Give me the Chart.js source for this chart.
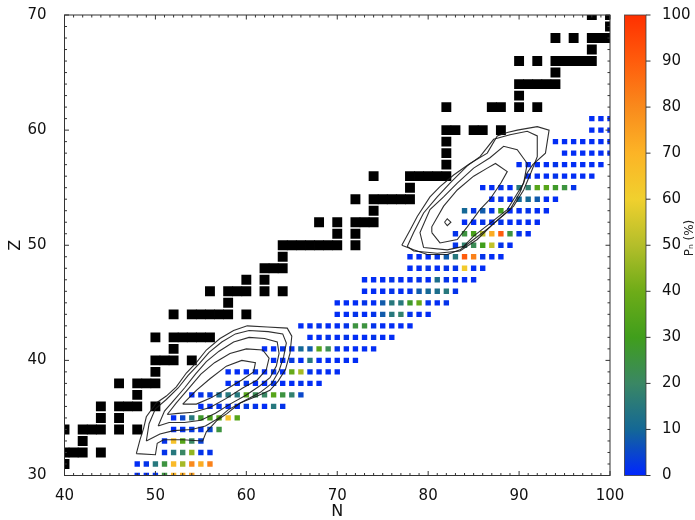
<!DOCTYPE html>
<html>
<head>
<meta charset="utf-8">
<script src="https://cdn.jsdelivr.net/npm/chart.js@4.4.0/dist/chart.umd.min.js"></script>
<style>
html, body { margin: 0; padding: 0; background: #fff; }
#wrap { width: 695px; height: 520px; }
</style>
</head>
<body>
<div id="wrap"><canvas id="myChart" width="695" height="520"></canvas></div>
<script>
// stable nuclei, one row per Z
var stableZ = [31, 32, 33, 34, 35, 36, 37, 38, 39, 40, 41, 42, 44, 45, 46, 47, 48, 49, 50, 51, 52, 53, 54, 55, 56, 57, 58, 59, 60, 62, 63, 64, 65, 66, 67, 68, 69, 70];
var stableN = [
    [40], [40, 41, 42, 44], [42], [40, 42, 43, 44, 46, 48], [44, 46],
    [44, 46, 47, 48, 50], [48], [46, 48, 49, 50], [50], [50, 51, 52, 54],
    [52], [50, 52, 53, 54, 55, 56], [52, 54, 55, 56, 57, 58, 60], [58],
    [56, 58, 59, 60, 62, 64], [60, 62], [62, 63, 64], [64],
    [64, 65, 66, 67, 68, 69, 70, 72], [70, 72], [68, 70, 72, 73, 74], [74],
    [72, 74, 75, 76, 77, 78], [78], [74, 78, 79, 80, 81, 82], [82], [82], [82],
    [82, 83, 85, 86, 88], [82, 87, 88, 90, 92], [90], [90, 91, 92, 93, 94], [94],
    [90, 92, 94, 95, 96, 97, 98], [98], [94, 96, 98, 99, 100], [100], [98, 100]
];

// Pn (%) for each Z row, starting at pnStartN
var pnZ = [30, 31, 32, 33, 34, 35, 36, 37, 38, 39, 40, 41, 42, 43, 44, 45, 46, 47, 48, 49, 50, 51, 52, 53, 54, 55, 56, 57, 58, 59, 60, 61];
var pnStartN = [48, 48, 51, 51, 52, 52, 55, 54, 58, 58, 63, 62, 67, 66, 70, 70, 73, 73, 78, 78, 83, 83, 84, 84, 87, 86, 91, 90, 95, 94, 98, 98];
var pnValues = [
    [1, 1, 2, 25, 70, 72, 75],
    [1, 2, 15, 25, 68, 48, 80, 72, 82],
    [2, 15, 20, 45, 2, 2],
    [2, 65, 35, 20, 4],
    [1, 2, 3, 2, 5, 25],
    [1, 5, 15, 28, 32, 35, 65, 35],
    [1, 1, 2, 1, 1, 3, 2, 1, 15, 2],
    [1, 2, 3, 12, 15, 15, 35, 22, 20, 35, 25, 18, 5],
    [1, 1, 2, 1, 1, 2, 1, 1, 2, 1, 1],
    [1, 1, 1, 2, 1, 2, 1, 38, 48, 2, 1, 1, 1],
    [1, 1, 3, 1, 15, 1, 1, 1, 1, 1],
    [1, 1, 2, 2, 10, 8, 35, 22, 2, 1, 1, 1, 1],
    [1, 1, 2, 1, 2, 1, 1, 2, 1, 1],
    [1, 1, 2, 1, 1, 2, 25, 25, 2, 1, 1, 1, 1],
    [1, 1, 2, 1, 2, 8, 15, 18, 2, 1, 1],
    [1, 1, 1, 2, 1, 8, 15, 15, 28, 38, 2, 1, 2],
    [1, 1, 1, 2, 1, 2, 8, 10, 12, 15, 2],
    [1, 1, 1, 2, 1, 1, 2, 1, 12, 2, 1, 1, 1],
    [1, 1, 2, 1, 2, 2, 62, 1, 1],
    [1, 1, 1, 2, 8, 15, 90, 82, 2, 1, 1],
    [2, 18, 22, 30, 52, 2, 1],
    [2, 25, 32, 52, 72, 90, 25, 2, 1],
    [1, 1, 2, 1, 2, 1, 1, 1, 1],
    [10, 2, 8, 2, 30, 1, 1, 2, 1, 1],
    [1, 2, 1, 10, 10, 8, 1, 1],
    [1, 1, 2, 1, 15, 18, 35, 35, 28, 25, 2],
    [1, 1, 1, 2, 1, 1, 1, 1],
    [1, 1, 1, 1, 2, 1, 1, 1, 1, 1],
    [1, 1, 1, 1, 1, 1],
    [1, 1, 1, 1, 1, 1, 1],
    [1, 1, 1],
    [1, 1, 1]
];

// contour rings [N, Z], lower-left group
var contourL1 = [[47.9, 31.9], [48.3, 33.1], [48.7, 34.1], [49.0, 35.1], [50.1, 36.3], [51.2, 36.9], [52.3, 37.7], [53.4, 38.9], [54.5, 39.8], [55.6, 40.9], [57.1, 41.9], [58.6, 42.6], [60.1, 43.0], [62.3, 42.9], [64.5, 42.8], [65.0, 42.1], [64.8, 40.6], [64.3, 39.2], [63.5, 38.2], [62.6, 37.4], [61.2, 36.9], [59.3, 36.3], [57.9, 35.4], [56.8, 34.8], [55.6, 33.8], [55.2, 33.0], [53.0, 33.1], [50.9, 33.1], [50.2, 32.8], [50.0, 31.8], [47.9, 31.9]];
var contourL2 = [[49.0, 33.0], [49.3, 34.5], [50.0, 35.8], [51.2, 36.6], [52.5, 37.6], [53.6, 38.7], [54.8, 39.7], [55.9, 40.7], [57.3, 41.6], [58.8, 42.3], [60.3, 42.6], [62.4, 42.5], [64.0, 42.3], [64.4, 41.5], [64.1, 40.3], [63.6, 39.1], [62.8, 38.0], [61.5, 37.2], [59.8, 36.5], [58.0, 35.7], [56.8, 34.9], [55.5, 34.3], [54.0, 34.0], [52.0, 33.9], [50.5, 33.6], [49.0, 33.0]];
var contourL3 = [[50.3, 34.3], [51.0, 35.6], [52.0, 36.5], [53.2, 37.6], [54.4, 38.8], [55.6, 39.9], [57.0, 40.8], [58.6, 41.6], [60.3, 42.0], [62.0, 41.9], [63.4, 41.6], [63.6, 40.6], [63.3, 39.5], [62.6, 38.5], [61.5, 37.8], [60.0, 37.0], [58.2, 36.2], [56.6, 35.4], [55.0, 34.8], [53.2, 34.6], [51.5, 34.6], [50.3, 34.3]];
var contourL4 = [[51.3, 35.3], [52.3, 36.3], [53.6, 37.5], [55.0, 38.8], [56.5, 39.8], [58.2, 40.6], [60.0, 41.0], [61.8, 40.9], [62.5, 40.2], [62.2, 39.2], [61.2, 38.3], [59.6, 37.6], [57.8, 36.7], [56.0, 35.9], [54.2, 35.5], [52.5, 35.4], [51.3, 35.3]];
var contourL5 = [[53.0, 36.2], [54.5, 37.4], [56.0, 38.4], [57.8, 39.5], [59.5, 40.0], [61.0, 39.8], [60.8, 39.0], [59.5, 38.3], [57.8, 37.5], [56.0, 36.7], [54.5, 36.2], [53.0, 36.2]];

// contour rings [N, Z], upper-right group
var contourR1 = [[77.1, 50.0], [78.0, 51.3], [78.8, 52.5], [80.2, 54.2], [81.3, 55.1], [82.8, 56.1], [84.6, 57.1], [86.5, 58.0], [87.6, 59.5], [88.7, 59.8], [89.8, 60.0], [92.0, 60.3], [93.3, 60.0], [92.9, 58.0], [91.5, 57.0], [90.9, 56.3], [90.1, 54.6], [89.0, 53.1], [86.8, 51.6], [85.0, 50.5], [83.5, 49.6], [82.1, 49.2], [79.9, 49.2], [78.4, 49.6], [77.1, 50.0]];
var contourR2 = [[77.7, 49.9], [78.4, 51.1], [79.5, 52.8], [81.0, 54.2], [82.4, 55.4], [84.3, 56.9], [85.7, 57.7], [87.2, 59.2], [89.0, 59.6], [90.9, 59.9], [92.0, 59.5], [92.0, 57.7], [91.3, 56.3], [90.5, 54.8], [89.4, 53.4], [87.2, 51.9], [85.4, 50.5], [83.5, 49.5], [81.0, 49.3], [78.4, 49.5], [77.7, 49.9]];
var contourR3 = [[79.5, 49.8], [79.1, 51.1], [80.2, 53.1], [81.7, 54.2], [83.2, 55.4], [85.0, 56.7], [86.8, 57.6], [88.3, 58.6], [89.8, 58.3], [90.9, 57.1], [90.5, 55.4], [89.8, 54.5], [88.7, 53.1], [86.8, 51.9], [85.0, 50.8], [83.9, 49.9], [82.1, 49.6], [79.5, 49.8]];
var contourR4 = [[80.4, 51.1], [80.4, 51.6], [81.7, 53.4], [83.2, 54.8], [85.0, 56.0], [86.5, 56.7], [87.4, 57.1], [88.7, 56.4], [88.0, 55.4], [86.8, 54.0], [85.7, 53.1], [84.3, 51.6], [83.2, 50.5], [81.3, 50.2], [80.4, 51.1]];
var contourR5 = [[81.8, 52.0], [82.1, 52.3], [82.5, 52.0], [82.1, 51.7], [81.8, 52.0]];

var cbTicks = [0, 10, 20, 30, 40, 50, 60, 70, 80, 90, 100];

// colour map of the Pn scale
var pnStops = [
    [0, [0, 38, 255]], [10, [20, 104, 150]], [20, [58, 135, 100]], [30, [64, 158, 28]],
    [40, [110, 172, 24]], [50, [180, 190, 42]], [60, [240, 208, 46]], [70, [252, 180, 38]],
    [80, [249, 138, 28]], [90, [255, 92, 12]], [100, [255, 48, 0]]
];

var fontFamily = "'DejaVu Sans', sans-serif";

function pnColor(v) {
    for (var i = 1; i < pnStops.length; i++) {
        if (v <= pnStops[i][0]) {
            var a = pnStops[i - 1], b = pnStops[i];
            var t = (v - a[0]) / (b[0] - a[0]);
            var c = a[1].map(function (ca, k) { return Math.round(ca + (b[1][k] - ca) * t); });
            return 'rgb(' + c.join(',') + ')';
        }
    }
    return 'rgb(' + pnStops[pnStops.length - 1][1].join(',') + ')';
}

function stablePoints() {
    var pts = [];
    stableZ.forEach(function (z, i) {
        stableN[i].forEach(function (n) { pts.push({ x: n, y: z }); });
    });
    return pts;
}

function pnPoints() {
    var pts = [];
    pnZ.forEach(function (z, i) {
        pnValues[i].forEach(function (v, j) { pts.push({ x: pnStartN[i] + j, y: z, v: v }); });
    });
    return pts;
}

function ring(list) {
    return list.map(function (p) { return { x: p[0], y: p[1] }; });
}

function contourSet(list) {
    return {
        type: 'scatter',
        data: ring(list),
        showLine: true,
        borderColor: 'rgba(25,25,25,0.9)',
        borderWidth: 1.1,
        pointRadius: 0,
        fill: false,
        tension: 0,
        order: 0
    };
}

// vertical axes: keep label overflow from pushing the plot area down
function fixWidth(w) {
    return function (s) {
        s.width = w;
        s.paddingTop = 0;
        s.paddingBottom = 0;
    };
}

var framePlugin = {
    id: 'frame',
    afterDatasetsDraw: function (chart) {
        var ctx = chart.ctx, a = chart.chartArea;
        var xs = chart.scales.x, ys = chart.scales.y, cb = chart.scales.cb;
        ctx.save();
        ctx.strokeStyle = '#333';
        ctx.lineWidth = 1;
        ctx.strokeRect(a.left, a.top, a.right - a.left, a.bottom - a.top);
        ctx.beginPath();
        var n, z, p, len;
        for (n = 40; n <= 100; n++) {
            p = xs.getPixelForValue(n);
            len = n % 10 === 0 ? 4.5 : 2.5;
            ctx.moveTo(p, a.bottom); ctx.lineTo(p, a.bottom - len);
            ctx.moveTo(p, a.top); ctx.lineTo(p, a.top + len);
        }
        for (z = 30; z <= 70; z++) {
            p = ys.getPixelForValue(z);
            len = z % 10 === 0 ? 4.5 : 2.5;
            ctx.moveTo(a.left, p); ctx.lineTo(a.left + len, p);
            ctx.moveTo(a.right, p); ctx.lineTo(a.right - len, p);
        }
        ctx.stroke();

        // colour bar
        var top = cb.getPixelForValue(100), bot = cb.getPixelForValue(0);
        var x0 = cb.left + 14.5, w = 21.5;
        var g = ctx.createLinearGradient(0, bot, 0, top);
        pnStops.forEach(function (s) {
            g.addColorStop(s[0] / 100, 'rgb(' + s[1].join(',') + ')');
        });
        ctx.fillStyle = g;
        ctx.fillRect(x0, top, w, bot - top);
        ctx.strokeStyle = 'rgba(60,60,60,0.8)';
        ctx.strokeRect(x0, top, w, bot - top);
        ctx.beginPath();
        cbTicks.forEach(function (t) {
            var py = cb.getPixelForValue(t);
            ctx.moveTo(x0 + w, py); ctx.lineTo(x0 + w + 4.5, py);
        });
        ctx.strokeStyle = '#333';
        ctx.stroke();

        ctx.translate(690, 238);
        ctx.rotate(-Math.PI / 2);
        ctx.fillStyle = '#222';
        ctx.font = "12px " + fontFamily;
        ctx.textAlign = 'center';
        ctx.textBaseline = 'middle';
        ctx.fillText('Pₙ (%)', 0, 0);
        ctx.restore();
    }
};

var datasets = [
    contourSet(contourL1), contourSet(contourL2), contourSet(contourL3), contourSet(contourL4), contourSet(contourL5),
    contourSet(contourR1), contourSet(contourR2), contourSet(contourR3), contourSet(contourR4), contourSet(contourR5),
    {
        type: 'scatter',
        data: pnPoints(),
        pointStyle: 'rect',
        pointRadius: 3.8,
        pointBorderWidth: 0,
        pointBackgroundColor: function (c) { return c.raw ? pnColor(c.raw.v) : '#00f'; },
        clip: 0,
        order: 1
    },
    {
        type: 'scatter',
        data: stablePoints(),
        pointStyle: 'rect',
        pointRadius: 7,
        pointBorderWidth: 0,
        pointBackgroundColor: '#000',
        clip: 0,
        order: 2
    }
];

new Chart(document.getElementById('myChart').getContext('2d'), {
    type: 'scatter',
    data: { datasets: datasets },
    options: {
        responsive: false,
        animation: false,
        devicePixelRatio: 1,
        events: [],
        layout: { padding: { top: 15, right: 0, bottom: 0, left: 0 } },
        plugins: { legend: { display: false }, tooltip: { enabled: false } },
        scales: {
            x: {
                type: 'linear', position: 'bottom', min: 40, max: 100,
                ticks: { stepSize: 10, padding: 4, color: '#111', font: { family: fontFamily, size: 15 } },
                grid: { display: false }, border: { display: false },
                title: { display: true, text: 'N', color: '#111', padding: 0, font: { family: fontFamily, size: 16, lineHeight: 1 } },
                afterFit: function (s) { s.height = 44.5; }
            },
            y: {
                type: 'linear', position: 'left', min: 30, max: 70,
                ticks: { stepSize: 10, padding: 10, color: '#111', font: { family: fontFamily, size: 15 } },
                grid: { display: false }, border: { display: false },
                title: { display: true, text: 'Z', color: '#111', padding: { top: 7.5, bottom: 0 }, font: { family: fontFamily, size: 16, lineHeight: 1 } },
                afterFit: fixWidth(64.5)
            },
            cb: {
                type: 'linear', position: 'right', min: 0, max: 100,
                ticks: { stepSize: 10, padding: 44, color: '#111', font: { family: fontFamily, size: 15 } },
                grid: { display: false }, border: { display: false },
                afterFit: fixWidth(85)
            }
        }
    },
    plugins: [framePlugin]
});
</script>
</body>
</html>
